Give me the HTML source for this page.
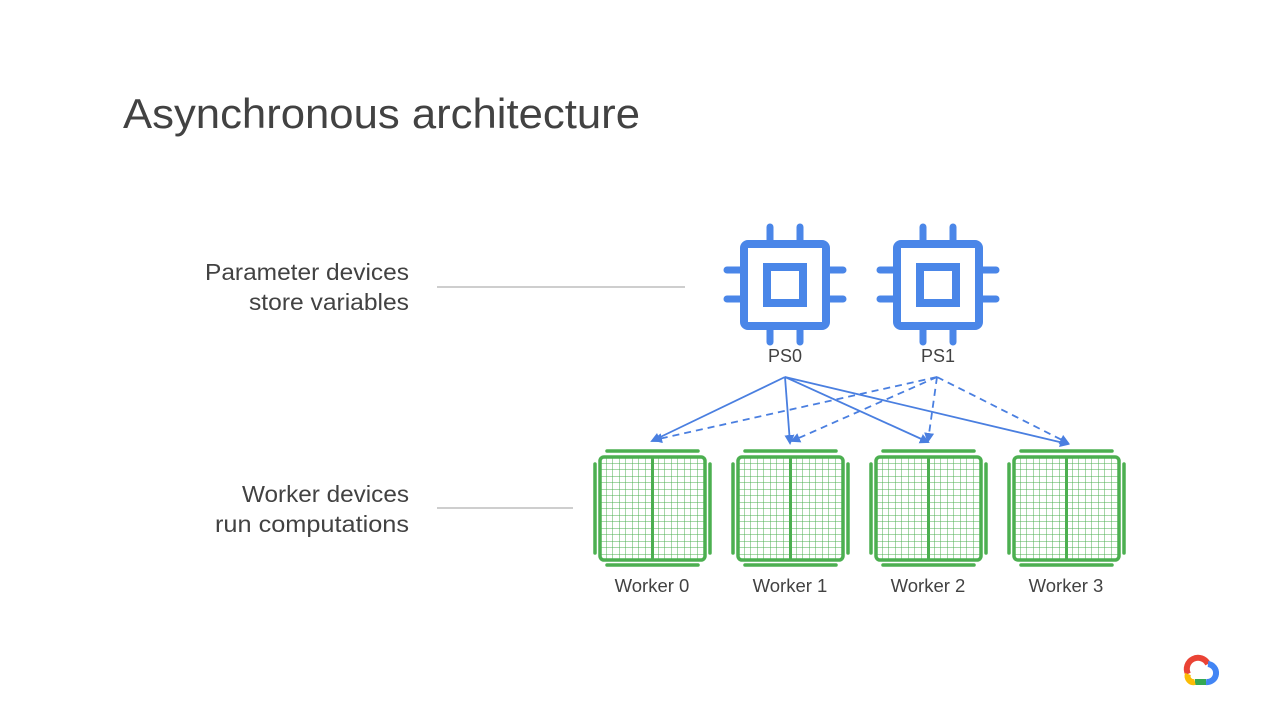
<!DOCTYPE html>
<html><head><meta charset="utf-8"><style>
html,body{margin:0;padding:0;background:#fff;}
svg{display:block;font-family:"Liberation Sans",Arial,sans-serif;}
</style></head><body>
<svg width="1280" height="720" viewBox="0 0 1280 720" xmlns="http://www.w3.org/2000/svg">
<defs>
<pattern id="g" x="600" y="457" width="6.5" height="6.5" patternUnits="userSpaceOnUse">
<path d="M6.5 0V6.5M0 6.5H6.5" stroke="#4caf50" stroke-width="1" fill="none"/>
</pattern>
<marker id="ah" markerWidth="10" markerHeight="10" refX="8" refY="5" orient="auto" markerUnits="userSpaceOnUse">
<path d="M0,0 L10,5 L0,10 z" fill="#4a7fe0"/>
</marker>
</defs>
<text x="123" y="128" font-size="42" fill="#424242" textLength="517" lengthAdjust="spacingAndGlyphs">Asynchronous architecture</text>
<g font-size="23" fill="#424242" text-anchor="end">
<text x="409" y="280" textLength="204" lengthAdjust="spacingAndGlyphs">Parameter devices</text>
<text x="409" y="310" textLength="160" lengthAdjust="spacingAndGlyphs">store variables</text>
<text x="409" y="502" textLength="167" lengthAdjust="spacingAndGlyphs">Worker devices</text>
<text x="409" y="532" textLength="194" lengthAdjust="spacingAndGlyphs">run computations</text>
</g>
<line x1="437" y1="287" x2="685" y2="287" stroke="#bdbdbd" stroke-width="1.5"/>
<line x1="437" y1="508" x2="573" y2="508" stroke="#bdbdbd" stroke-width="1.5"/>

<g id="chip" stroke="#4a86e8" fill="none" stroke-linecap="round">
<rect x="744" y="244" width="82" height="82" rx="4" stroke-width="8"/>
<rect x="767" y="267" width="36" height="36" stroke-width="8"/>
<path d="M770 227V244M800 227V244M770 326V342M800 326V342M727 270H744M727 299H744M826 270H843M826 299H843" stroke-width="7"/>
</g>
<use href="#chip" x="153"/>
<g font-size="18" fill="#424242" text-anchor="middle">
<text x="785" y="362">PS0</text>
<text x="938" y="362">PS1</text>
</g>

<g stroke="#4a7fe0" stroke-width="1.8" fill="none" marker-end="url(#ah)">
<line x1="785" y1="377" x2="652" y2="441"/>
<line x1="785" y1="377" x2="790" y2="443"/>
<line x1="785" y1="377" x2="928" y2="442"/>
<line x1="785" y1="377" x2="1068" y2="444"/>
<g stroke-dasharray="7,5">
<line x1="937" y1="377" x2="654" y2="440"/>
<line x1="937" y1="377" x2="792" y2="441"/>
<line x1="937" y1="377" x2="928" y2="441"/>
<line x1="937" y1="377" x2="1068" y2="443"/>
</g>
</g>

<g id="w">
<rect x="600" y="457" width="105" height="103" fill="url(#g)"/>
<rect x="600" y="457" width="105" height="103" rx="4" fill="none" stroke="#4caf50" stroke-width="3.5"/>
<line x1="652.5" y1="457" x2="652.5" y2="560" stroke="#4caf50" stroke-width="3"/>
<g stroke="#4caf50" stroke-width="3.5" stroke-linecap="round">
<line x1="607" y1="451" x2="698" y2="451"/>
<line x1="607" y1="565" x2="698" y2="565"/>
<line x1="595" y1="464" x2="595" y2="553"/>
<line x1="710" y1="464" x2="710" y2="553"/>
</g>
</g>
<use href="#w" x="138"/>
<use href="#w" x="276"/>
<use href="#w" x="414"/>
<g font-size="18.5" fill="#424242" text-anchor="middle">
<text x="652" y="592">Worker 0</text>
<text x="790" y="592">Worker 1</text>
<text x="928" y="592">Worker 2</text>
<text x="1066" y="592">Worker 3</text>
</g>

<g fill="none" stroke-width="6" stroke-linecap="butt">
<path d="M1188 674 A11 11 0 0 1 1208 664" stroke="#ea4335"/>
<path d="M1208 664 A9 9 0 0 1 1206 682" stroke="#4285f4"/>
<path d="M1206 682 L1195 682" stroke="#34a853"/>
<path d="M1195 682 A6 6 0 0 1 1188 674" stroke="#fbbc05"/>
</g>
</svg>
</body></html>
